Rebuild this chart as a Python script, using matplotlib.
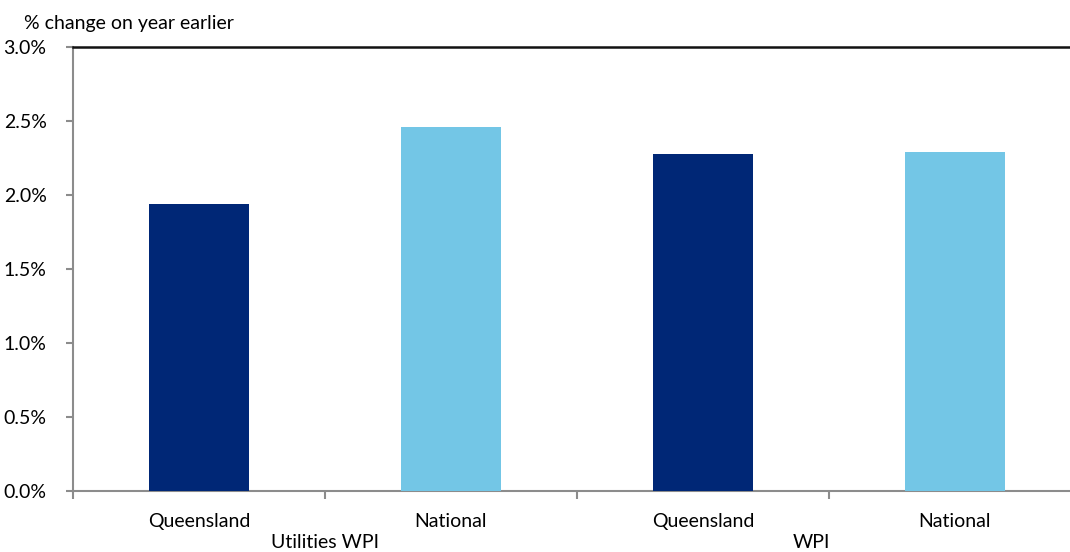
import matplotlib
matplotlib.use("Agg")
import matplotlib.pyplot as plt
from matplotlib.ticker import FuncFormatter, FixedLocator

plt.rcParams['font.family'] = ['Lato', 'DejaVu Sans']

categories = ["Queensland", "National", "Queensland", "National"]
groups = ["Utilities WPI", "WPI"]
values = [1.94, 2.46, 2.28, 2.29]
colors = ["#002776", "#73C6E6", "#002776", "#73C6E6"]
y_ticks = [0.0, 0.5, 1.0, 1.5, 2.0, 2.5, 3.0]

fs = 14

fig = plt.figure(figsize=(10.70, 5.52), dpi=100)
ax = fig.add_axes([73/1070, 61/552, 1008/1070, 444/552])

x = list(range(len(categories)))
ax.bar(x, values, width=0.4, color=colors, zorder=3)

ax.set_xlim(-0.5, 3.5)
ax.set_ylim(0, 3.0)
ax.set_yticks(y_ticks)
ax.yaxis.set_major_formatter(FuncFormatter(lambda v, p: f"{v:.1f}%"))

ax.xaxis.set_major_locator(FixedLocator([-0.5, 0.5, 1.5, 2.5, 3.5]))
ax.xaxis.set_minor_locator(FixedLocator(x))
ax.set_xticklabels([])
ax.set_xticklabels(categories, minor=True)
ax.tick_params(axis='x', which='minor', length=0, pad=16, labelsize=fs)
ax.tick_params(axis='x', which='major', length=6, width=1.5, color='#8c8c8c', direction='out')
ax.tick_params(axis='y', length=5, width=1.5, color='#8c8c8c', labelsize=fs, pad=14)

for s in ['left', 'bottom']:
    ax.spines[s].set_color('#8c8c8c')
    ax.spines[s].set_linewidth(1.5)
ax.spines['right'].set_visible(False)
ax.spines['top'].set_color('#111111')
ax.spines['top'].set_linewidth(1.8)

# group labels
ax.text(0.5, -0.115, groups[0], transform=ax.get_xaxis_transform(),
        ha='center', va='center', fontsize=fs)
ax.text(2.43, -0.117, groups[1], transform=ax.get_xaxis_transform(),
        ha='center', va='center', fontsize=fs)

fig.text(24/1070, 1 - 23/552, "% change on year earlier", ha='left', va='center', fontsize=fs)

fig.savefig("out.png", dpi=100)
